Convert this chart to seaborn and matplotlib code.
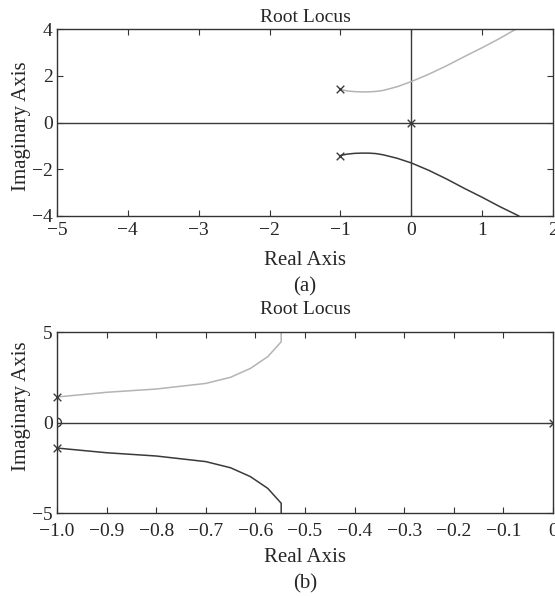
import numpy as np
import pandas as pd
import seaborn as sns
import matplotlib.pyplot as plt

# (a) root locus branches
a_upper_re = [-1.0, -0.9, -0.8, -0.7, -0.6, -0.5, -0.4, -0.2, 0.0, 0.25, 0.5, 0.75, 1.0, 1.25, 1.48]
a_upper_im = [1.41, 1.35, 1.32, 1.31, 1.31, 1.33, 1.37, 1.53, 1.75, 2.07, 2.43, 2.82, 3.2, 3.6, 4.0]
a_lower_re = [-1.0, -0.9, -0.8, -0.7, -0.6, -0.5, -0.4, -0.2, 0.0, 0.25, 0.5, 0.75, 1.0, 1.25, 1.52]
a_lower_im = [-1.41, -1.35, -1.32, -1.31, -1.31, -1.33, -1.38, -1.53, -1.73, -2.05, -2.42, -2.82, -3.2, -3.6, -4.0]
a_poles_re = [-1.0, -1.0, 0.0]
a_poles_im = [1.414, -1.414, 0.0]

# (b) zoomed root locus
b_upper_re = [-1.0, -0.9, -0.8, -0.7, -0.65, -0.61, -0.575, -0.548, -0.548]
b_upper_im = [1.41, 1.67, 1.85, 2.16, 2.5, 2.99, 3.64, 4.46, 5.0]
b_lower_re = [-1.0, -0.9, -0.8, -0.7, -0.65, -0.61, -0.575, -0.548, -0.548]
b_lower_im = [-1.41, -1.67, -1.85, -2.16, -2.5, -2.99, -3.64, -4.46, -5.0]
b_poles_re = [-1.0, -1.0]
b_poles_im = [1.414, -1.414]
b_origin_re = [0.0]
b_origin_im = [0.0]
b_zero_re = [-1.0]
b_zero_im = [0.0]

sns.set_style("white")
plt.rcParams['font.family'] = ['Liberation Serif', 'DejaVu Serif']
plt.rcParams['axes.edgecolor'] = '#333333'
plt.rcParams['axes.linewidth'] = 1.0

fig = plt.figure(figsize=(5.55, 5.98), dpi=100)
ax1 = fig.add_axes([0.1027, 0.6388, 0.8937, 0.3127])
ax2 = fig.add_axes([0.1027, 0.1421, 0.8937, 0.3027])

light = '#b4b4b4'
dark = '#3a3a3a'


def branch(ax, re, im, color):
    df = pd.DataFrame({'re': re, 'im': im})
    sns.lineplot(data=df, x='re', y='im', ax=ax, color=color, lw=1.1,
                 sort=False, estimator=None)


def style_axes(ax, xlim, ylim, xticks, yticks, title_pad, xpad, xlabelpad, xfmt=None):
    ax.set_xlim(*xlim)
    ax.set_ylim(*ylim)
    ax.set_xticks(xticks)
    ax.set_yticks(yticks)
    if xfmt:
        ax.set_xticklabels([xfmt(v) for v in xticks])
    ax.tick_params(direction='in', length=4, width=0.8, color='#333333',
                   top=True, right=True, labelsize=14, pad=3,
                   bottom=True, left=True)
    ax.tick_params(axis='x', pad=xpad)
    ax.set_title('Root Locus', fontsize=14, pad=title_pad)
    ax.set_xlabel('Real Axis', fontsize=15, labelpad=xlabelpad)
    ax.set_ylabel('Imaginary Axis', fontsize=15, labelpad=1)


# --- (a)
ax1.axhline(0, color=dark, lw=1.0, zorder=1)
ax1.axvline(0, color=dark, lw=1.0, zorder=1)
branch(ax1, a_upper_re, a_upper_im, light)
branch(ax1, a_lower_re, a_lower_im, dark)
sns.scatterplot(x=a_poles_re, y=a_poles_im, ax=ax1, marker='x', s=30,
                color=dark, linewidth=1.0, zorder=5)
style_axes(ax1, (-5, 2), (-4, 4), range(-5, 3), [-4, -2, 0, 2, 4],
           title_pad=5, xpad=4, xlabelpad=9)
ax1.yaxis.label.set_y(0.48)
ax1.text(0.5, -0.38, '(a)', transform=ax1.transAxes, ha='center', va='center', fontsize=15)

# --- (b)
ax2.axhline(0, color=dark, lw=1.0, zorder=1)
branch(ax2, b_upper_re, b_upper_im, light)
branch(ax2, b_lower_re, b_lower_im, dark)
sns.scatterplot(x=b_poles_re, y=b_poles_im, ax=ax2, marker='x', s=30,
                color=dark, linewidth=1.0, zorder=5, clip_on=False)
sns.scatterplot(x=b_origin_re, y=b_origin_im, ax=ax2, marker='x', s=30,
                color=dark, linewidth=1.0, zorder=5)
sns.scatterplot(x=b_zero_re, y=b_zero_im, ax=ax2, marker='o', s=40,
                facecolor='none', edgecolor=dark, linewidth=1.0, zorder=5)
style_axes(ax2, (-1, 0), (-5, 5), np.round(np.arange(-1.0, 0.01, 0.1), 1), [-5, 0, 5],
           title_pad=13, xpad=7, xlabelpad=6,
           xfmt=lambda v: '0' if v == 0 else f'{v:.1f}'.replace('-', '\u2212'))
ax2.yaxis.label.set_y(0.59)
ax2.text(0.5, -0.39, '(b)', transform=ax2.transAxes, ha='center', va='center', fontsize=15)

for ax in (ax1, ax2):
    for s in ax.spines.values():
        s.set_visible(True)

fig.savefig('out.png', dpi=100)
